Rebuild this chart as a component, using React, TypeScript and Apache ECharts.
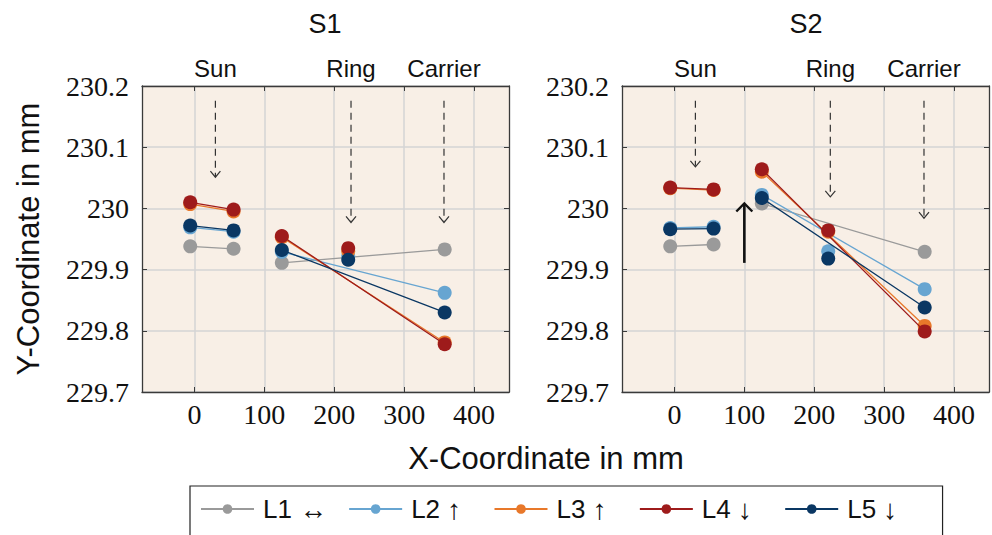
import React, { useEffect, useRef } from 'react';
import * as echarts from 'echarts';

// ---------- data ----------
const seriesNames = ['L1', 'L2', 'L3', 'L4', 'L5'];
const legendArrows = ['↔', '↑\u2009\u2009', '↑\u2009\u2009', '↓\u2009\u2009', '↓\u2009\u2009'];
const seriesColors = ['#9A9A9A', '#67A5D1', '#E8782A', '#9E1B1B', '#0A3763'];
// measurement x positions: Sun left, Sun right, middle, Ring, Carrier
const xPositions = [-6, 56, 125, 220, 358];

const s1L1 = [229.938, 229.934, 229.911, null, 229.933];
const s1L2 = [229.969, 229.962, 229.929, 229.922, 229.862];
const s1L3 = [230.007, 229.995, 229.953, 229.93, 229.781];
const s1L4 = [230.01, 229.998, 229.955, 229.935, 229.778];
const s1L5 = [229.972, 229.964, 229.932, 229.916, 229.83];

const s2L1 = [229.938, 229.941, 230.008, null, 229.929];
const s2L2 = [229.968, 229.97, 230.022, 229.93, 229.868];
const s2L3 = [230.033, 230.03, 230.06, 229.962, 229.808];
const s2L4 = [230.034, 230.031, 230.064, 229.964, 229.799];
const s2L5 = [229.966, 229.967, 230.017, 229.918, 229.838];

const panelTitles = ['S1', 'S2'];
const xAxisTitle = 'X-Coordinate in mm';
const yAxisTitle = 'Y-Coordinate in mm';
const componentLabels = ['Sun', 'Ring', 'Carrier'];
const arrowTop = 230.176;
const s1ArrowX = [30, 224, 357];
const s1ArrowEnd = [230.051, 229.977, 229.977];
const s2ArrowX = [30, 223, 357];
const s2ArrowEnd = [230.068, 230.019, 229.984];
const s2UpArrow = [100, 229.911, 230.008];

const xTicks = [0, 100, 200, 300, 400];
const xMin = -75;
const xMax = 450;
const yMin = 229.7;
const yMax = 230.2;
const yStep = 0.1;

const panels = [
  { values: [s1L1, s1L2, s1L3, s1L4, s1L5], arrowX: s1ArrowX, arrowEnd: s1ArrowEnd },
  { values: [s2L1, s2L2, s2L3, s2L4, s2L5], arrowX: s2ArrowX, arrowEnd: s2ArrowEnd },
];

const SANS = 'Liberation Sans';
const SERIF = 'Liberation Serif';
const AXIS_COLOR = '#3a3a3a';

function buildLineData(vals: (number | null)[]) {
  const d: any[] = [];
  d.push([xPositions[0], vals[0]]);
  d.push([xPositions[1], vals[1]]);
  d.push([xPositions[1], null]);
  d.push([xPositions[2], vals[2]]);
  d.push([xPositions[4], vals[4]]);
  if (vals[3] != null) {
    d.push([xPositions[4], null]);
    d.push([xPositions[3], vals[3]]);
  }
  return d;
}

export default function App() {
  const ref = useRef<HTMLDivElement>(null);
  useEffect(() => {
    if (!ref.current) return;
    const chart = echarts.init(ref.current, null, { renderer: 'svg' });

    const grids = [
      { left: 142, top: 86, width: 367, height: 306 },
      { left: 622, top: 86, width: 367, height: 306 },
    ].map((g) => ({ ...g, show: true, backgroundColor: '#F8EFE6', borderWidth: 0 }));

    const xAxes: any[] = [];
    const yAxes: any[] = [];
    [0, 1].forEach((gi) => {
      const base = {
        type: 'value',
        gridIndex: gi,
        min: xMin,
        max: xMax,
        axisLine: { show: true, onZero: false, lineStyle: { color: AXIS_COLOR, width: 1.3 } },
        axisTick: { show: true, inside: true, length: 5, customValues: xTicks, lineStyle: { color: AXIS_COLOR, width: 1 } },
      };
      xAxes.push({
        ...base,
        position: 'bottom',
        axisLabel: {
          show: true,
          customValues: xTicks,
          fontFamily: SERIF,
          fontSize: 28,
          fontWeight: 'normal',
          color: '#111111',
          margin: 8,
        },
        splitLine: { show: true, lineStyle: { color: '#D5D5D5', width: 1.5 } },
      });
      xAxes.push({ ...base, position: 'top', axisLabel: { show: false }, splitLine: { show: false } });
      const ybase = {
        type: 'value',
        gridIndex: gi,
        min: yMin,
        max: yMax,
        interval: yStep,
        axisLine: { show: true, onZero: false, lineStyle: { color: AXIS_COLOR, width: 1.3 } },
        axisTick: { show: true, inside: true, length: 5, lineStyle: { color: AXIS_COLOR, width: 1 } },
      };
      yAxes.push({
        ...ybase,
        position: 'left',
        name: gi === 0 ? yAxisTitle : '',
        nameLocation: 'middle',
        nameRotate: 90,
        nameGap: 98,
        nameTextStyle: { fontFamily: SANS, fontSize: 31, color: '#111111' },
        axisLabel: {
          show: true,
          fontFamily: SERIF,
          fontSize: 28,
          fontWeight: 'normal',
          color: '#111111',
          margin: 13,
          formatter: (v: number) => String(parseFloat(v.toFixed(1))),
        },
        splitLine: { show: true, lineStyle: { color: '#D5D5D5', width: 1.5 } },
      });
      yAxes.push({ ...ybase, position: 'right', axisLabel: { show: false }, splitLine: { show: false } });
    });

    const series: any[] = [];
    panels.forEach((p, pi) => {
      p.values.forEach((vals, si) => {
        series.push({
          type: 'line',
          name: seriesNames[si],
          xAxisIndex: pi * 2,
          yAxisIndex: pi * 2,
          data: buildLineData(vals),
          connectNulls: false,
          symbol: 'circle',
          symbolSize: 14,
          showSymbol: true,
          showAllSymbol: true,
          color: seriesColors[si],
          itemStyle: { color: seriesColors[si] },
          lineStyle: { color: seriesColors[si], width: 1.3 },
          z: 3 + si,
        });
      });
      // dashed arrows with labels
      series.push({
        type: 'custom',
        xAxisIndex: pi * 2,
        yAxisIndex: pi * 2,
        silent: true,
        clip: false,
        z: 2,
        encode: { x: 0, y: [1, 2] },
        data: p.arrowX.map((x, i) => [x, arrowTop, p.arrowEnd[i], i]),
        renderItem: (params: any, api: any) => {
          const x = api.value(0);
          const top = api.coord([x, api.value(1)]);
          const end = api.coord([x, api.value(2)]);
          const frame = api.coord([x, yMax]);
          const label = componentLabels[api.value(3)];
          return {
            type: 'group',
            children: [
              {
                type: 'line',
                shape: { x1: top[0], y1: top[1], x2: end[0], y2: end[1] - 1 },
                style: { stroke: '#333', lineWidth: 1.2, lineDash: [7, 5] },
              },
              {
                type: 'polyline',
                shape: { points: [[end[0] - 5, end[1] - 6], [end[0], end[1]], [end[0] + 5, end[1] - 6]] },
                style: { stroke: '#333', lineWidth: 1.2, fill: 'none' },
              },
              {
                type: 'text',
                x: frame[0],
                y: frame[1] - 18,
                style: {
                  text: label,
                  fontFamily: SANS,
                  fontSize: 24,
                  fill: '#111',
                  align: 'center',
                  verticalAlign: 'middle',
                },
              },
            ],
          };
        },
      });
    });

    // solid up arrow in S2
    series.push({
      type: 'custom',
      xAxisIndex: 2,
      yAxisIndex: 2,
      silent: true,
      z: 2,
      encode: { x: 0, y: [1, 2] },
      data: [s2UpArrow],
      renderItem: (params: any, api: any) => {
        const x = api.value(0);
        const b = api.coord([x, api.value(1)]);
        const t = api.coord([x, api.value(2)]);
        return {
          type: 'group',
          children: [
            { type: 'line', shape: { x1: b[0], y1: b[1], x2: t[0], y2: t[1] + 1 }, style: { stroke: '#111', lineWidth: 2.6 } },
            {
              type: 'polyline',
              shape: { points: [[t[0] - 8, t[1] + 8], [t[0], t[1]], [t[0] + 8, t[1] + 8]] },
              style: { stroke: '#111', lineWidth: 2.4, fill: 'none' },
            },
          ],
        };
      },
    });

    const titleStyle = (size: number) => ({ fontFamily: SANS, fontSize: size, fontWeight: 'normal', color: '#111111' });

    const option: any = {
      animation: false,
      title: [
        { text: panelTitles[0], left: 325, top: 10, textAlign: 'center', padding: 0, textStyle: titleStyle(27) },
        { text: panelTitles[1], left: 806, top: 10, textAlign: 'center', padding: 0, textStyle: titleStyle(27) },
        { text: xAxisTitle, left: 546, top: 443, textAlign: 'center', padding: 0, textStyle: titleStyle(31) },
      ],
      grid: grids,
      xAxis: xAxes,
      yAxis: yAxes,
      legend: {
        data: seriesNames,
        left: 190,
        top: 486,
        orient: 'horizontal',
        padding: [9, 34, 22, 10],
        borderColor: '#222',
        borderWidth: 1.2,
        itemGap: 21,
        itemWidth: 53,
        itemHeight: 12,
        selectedMode: false,
        formatter: (name: string) => `{nm|${name}} {arr|${legendArrows[seriesNames.indexOf(name)]}}`,
        textStyle: {
          fontFamily: SANS,
          fontSize: 26,
          color: '#111111',
          padding: [0, 0, 0, 4],
          rich: {
            nm: { fontFamily: SANS, fontSize: 26, color: '#111111' },
            arr: { fontFamily: SERIF, fontSize: 28, color: '#111111' },
          },
        },
      },
      series,
    };

    chart.setOption(option);
    return () => chart.dispose();
  }, []);

  return (
    <div
      ref={ref}
      style={{ position: 'fixed', left: 0, top: 0, width: 992, height: 535, background: '#ffffff' }}
    />
  );
}
